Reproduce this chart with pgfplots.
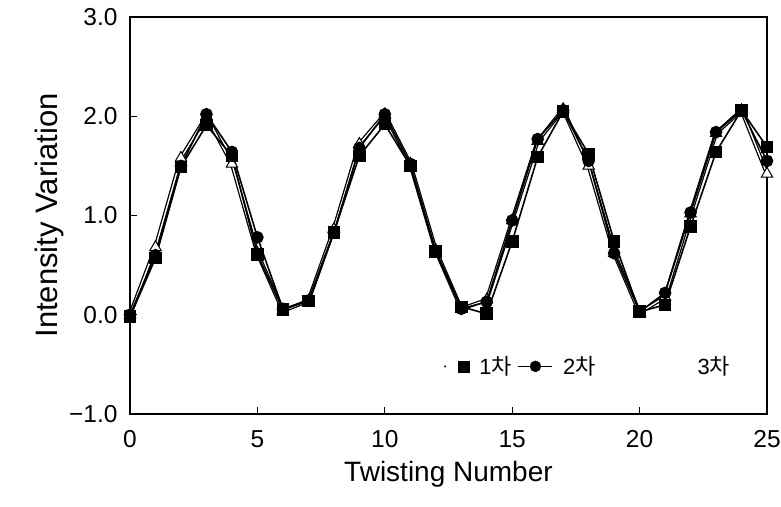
\documentclass[border=0pt]{standalone}
\usepackage{fontspec}
\setmainfont{Liberation Sans}
\newfontfamily\cjk{Noto Sans CJK KR}
\usepackage{pgfplots}
\pgfplotsset{compat=1.18}
\begin{document}
\begin{tikzpicture}
\useasboundingbox (-130pt,-92pt) rectangle (651pt,414pt);
\begin{axis}[
  scale only axis, width=637pt, height=397pt,
  xmin=0, xmax=25, ymin=-1, ymax=3,
  axis line style={line width=1.8pt},
  xtick={0,5,10,15,20,25}, ytick={-1,0,1,2,3},
  yticklabels={−1.0,0.0,1.0,2.0,3.0},
  tick align=inside, xtick pos=bottom, ytick pos=left,
  major tick length=7pt, tick style={line width=1pt, black},
  ticklabel style={font=\fontsize{24.5}{27}\selectfont},
  xticklabel style={yshift=-13pt},
  yticklabel style={xshift=-9pt},
  /pgf/number format/assume math mode=true,
  xlabel={Twisting Number}, ylabel={Intensity Variation},
  label style={font=\fontsize{28}{31}\selectfont},
  xlabel style={yshift=-6pt},
  ylabel={\fontsize{31}{34}\selectfont Intensity Variation},
  ylabel style={yshift=-2pt},
  legend style={at={(axis cs:12.2,-0.52)}, anchor=west, draw=none, fill=none,
    font=\fontsize{22}{25}\selectfont, legend columns=-1,
    /tikz/every even column/.append style={column sep=4pt},
    /tikz/every odd column/.append style={column sep=8pt}},
]
\addplot[black, line width=1.3pt, double=white, double distance=1.4pt,
  mark=triangle*, mark size=6.5pt, mark options={fill=white, draw=black, line width=1pt, solid},
  forget plot] coordinates {
(0,0.0) (1,0.68) (2,1.58) (3,2.0) (4,1.52) (5,0.62) (6,0.04) (7,0.14) (8,0.86) (9,1.72)
(10,2.02) (11,1.52) (12,0.65) (13,0.06) (14,0.15) (15,0.95) (16,1.75) (17,2.07) (18,1.5) (19,0.62)
(20,0.02) (21,0.18) (22,1.02) (23,1.83) (24,2.06) (25,1.42)};
\addplot[black, line width=1.6pt, mark=*, mark size=5.5pt, forget plot] coordinates {
(0,0.0) (1,0.6) (2,1.5) (3,2.02) (4,1.64) (5,0.78) (6,0.06) (7,0.14) (8,0.83) (9,1.68)
(10,2.02) (11,1.52) (12,0.64) (13,0.06) (14,0.13) (15,0.95) (16,1.77) (17,2.06) (18,1.55) (19,0.62)
(20,0.03) (21,0.22) (22,1.03) (23,1.84) (24,2.06) (25,1.55)};
\addplot[black, line width=1.6pt, mark=square*, mark size=5.5pt, forget plot] coordinates {
(0,-0.02) (1,0.57) (2,1.49) (3,1.91) (4,1.6) (5,0.61) (6,0.05) (7,0.14) (8,0.83) (9,1.6)
(10,1.92) (11,1.5) (12,0.64) (13,0.08) (14,0.01) (15,0.74) (16,1.59) (17,2.05) (18,1.62) (19,0.74)
(20,0.03) (21,0.1) (22,0.89) (23,1.64) (24,2.06) (25,1.69)};
\addlegendimage{legend image code/.code={\fill[black] (0pt,0pt) circle (0.8pt); \fill[black] (13pt,-5.5pt) rectangle (24pt,5.5pt);}}
\addlegendentry{1{\cjk 차}}
\addlegendimage{legend image code/.code={\draw[black,line width=1.5pt] (0pt,0pt) -- (34pt,0pt); \fill[black] (17pt,0pt) circle (5.5pt);}}
\addlegendentry{2{\cjk 차}}
\addlegendimage{legend image code/.code={\path[draw=none,fill=none] (0pt,0pt) -- (86pt,0pt);}}
\addlegendentry{3{\cjk 차}}
\end{axis}
\end{tikzpicture}
\end{document}
